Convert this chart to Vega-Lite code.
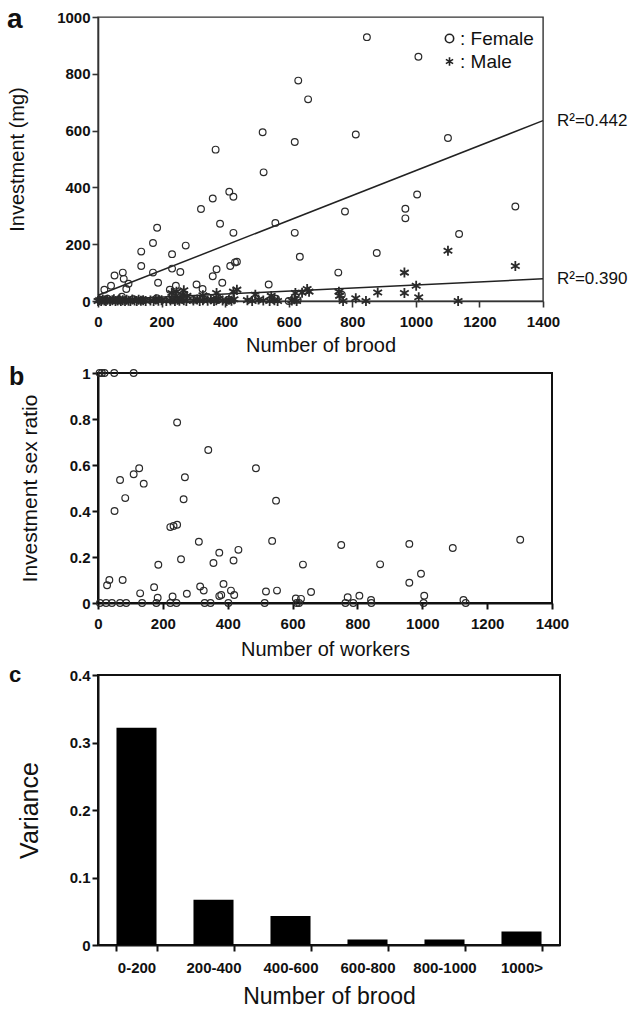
{
  "$schema": "https://vega.github.io/schema/vega-lite/v6.json",
  "background": "white",
  "padding": {"left": 6, "top": 5, "right": 0, "bottom": 0},
  "bounds": "flush",
  "spacing": 72,
  "config": {
    "font": "Liberation Sans",
    "axis": {
      "grid": false,
      "labelFont": "Liberation Sans",
      "titleFont": "Liberation Sans",
      "labelFontWeight": "bold",
      "titleFontWeight": "normal",
      "labelColor": "#111",
      "titleColor": "#111",
      "domainColor": "#222",
      "tickColor": "#222",
      "domainWidth": 1.6,
      "tickWidth": 1.6,
      "tickSize": 6,
      "labelFontSize": 15,
      "labelFlush": false,
      "labelOverlap": false
    },
    "title": {"font": "Liberation Sans", "color": "#111"}
  },
  "datasets": {
    "a_pts": [
      {"brood": 630, "inv": 776, "sex": "Female"},
      {"brood": 661, "inv": 710, "sex": "Female"},
      {"brood": 518, "inv": 594, "sex": "Female"},
      {"brood": 619, "inv": 560, "sex": "Female"},
      {"brood": 370, "inv": 533, "sex": "Female"},
      {"brood": 521, "inv": 453, "sex": "Female"},
      {"brood": 413, "inv": 385, "sex": "Female"},
      {"brood": 426, "inv": 367, "sex": "Female"},
      {"brood": 361, "inv": 361, "sex": "Female"},
      {"brood": 324, "inv": 324, "sex": "Female"},
      {"brood": 384, "inv": 272, "sex": "Female"},
      {"brood": 426, "inv": 240, "sex": "Female"},
      {"brood": 186, "inv": 258, "sex": "Female"},
      {"brood": 558, "inv": 275, "sex": "Female"},
      {"brood": 619, "inv": 240, "sex": "Female"},
      {"brood": 635, "inv": 156, "sex": "Female"},
      {"brood": 136, "inv": 174, "sex": "Female"},
      {"brood": 173, "inv": 204, "sex": "Female"},
      {"brood": 276, "inv": 195, "sex": "Female"},
      {"brood": 233, "inv": 165, "sex": "Female"},
      {"brood": 136, "inv": 123, "sex": "Female"},
      {"brood": 173, "inv": 100, "sex": "Female"},
      {"brood": 233, "inv": 114, "sex": "Female"},
      {"brood": 259, "inv": 102, "sex": "Female"},
      {"brood": 373, "inv": 112, "sex": "Female"},
      {"brood": 361, "inv": 87, "sex": "Female"},
      {"brood": 416, "inv": 123, "sex": "Female"},
      {"brood": 431, "inv": 136, "sex": "Female"},
      {"brood": 437, "inv": 138, "sex": "Female"},
      {"brood": 391, "inv": 64, "sex": "Female"},
      {"brood": 189, "inv": 64, "sex": "Female"},
      {"brood": 537, "inv": 58, "sex": "Female"},
      {"brood": 52, "inv": 90, "sex": "Female"},
      {"brood": 78, "inv": 100, "sex": "Female"},
      {"brood": 81, "inv": 78, "sex": "Female"},
      {"brood": 89, "inv": 42, "sex": "Female"},
      {"brood": 41, "inv": 54, "sex": "Female"},
      {"brood": 20, "inv": 40, "sex": "Female"},
      {"brood": 96, "inv": 61, "sex": "Female"},
      {"brood": 310, "inv": 58, "sex": "Female"},
      {"brood": 329, "inv": 42, "sex": "Female"},
      {"brood": 245, "inv": 54, "sex": "Female"},
      {"brood": 226, "inv": 40, "sex": "Female"},
      {"brood": 846, "inv": 929, "sex": "Female"},
      {"brood": 1008, "inv": 860, "sex": "Female"},
      {"brood": 811, "inv": 586, "sex": "Female"},
      {"brood": 1101, "inv": 574, "sex": "Female"},
      {"brood": 1004, "inv": 375, "sex": "Female"},
      {"brood": 777, "inv": 315, "sex": "Female"},
      {"brood": 967, "inv": 325, "sex": "Female"},
      {"brood": 967, "inv": 291, "sex": "Female"},
      {"brood": 1313, "inv": 333, "sex": "Female"},
      {"brood": 1136, "inv": 236, "sex": "Female"},
      {"brood": 877, "inv": 169, "sex": "Female"},
      {"brood": 756, "inv": 100, "sex": "Female"},
      {"brood": 767, "inv": 22, "sex": "Female"},
      {"brood": 8, "inv": 5, "sex": "Female"},
      {"brood": 30, "inv": 8, "sex": "Female"},
      {"brood": 60, "inv": 2, "sex": "Female"},
      {"brood": 75, "inv": 15, "sex": "Female"},
      {"brood": 110, "inv": 6, "sex": "Female"},
      {"brood": 140, "inv": 3, "sex": "Female"},
      {"brood": 185, "inv": 10, "sex": "Female"},
      {"brood": 235, "inv": 20, "sex": "Female"},
      {"brood": 250, "inv": 12, "sex": "Female"},
      {"brood": 300, "inv": 4, "sex": "Female"},
      {"brood": 345, "inv": 14, "sex": "Female"},
      {"brood": 380, "inv": 6, "sex": "Female"},
      {"brood": 410, "inv": 4, "sex": "Female"},
      {"brood": 560, "inv": 8, "sex": "Female"},
      {"brood": 600, "inv": 0, "sex": "Female"},
      {"brood": 628, "inv": 4, "sex": "Female"},
      {"brood": 0, "inv": 0, "sex": "Male"},
      {"brood": 5, "inv": 3, "sex": "Male"},
      {"brood": 10, "inv": 0, "sex": "Male"},
      {"brood": 15, "inv": 5, "sex": "Male"},
      {"brood": 20, "inv": 2, "sex": "Male"},
      {"brood": 25, "inv": 0, "sex": "Male"},
      {"brood": 30, "inv": 4, "sex": "Male"},
      {"brood": 38, "inv": 0, "sex": "Male"},
      {"brood": 45, "inv": 3, "sex": "Male"},
      {"brood": 50, "inv": 6, "sex": "Male"},
      {"brood": 55, "inv": 0, "sex": "Male"},
      {"brood": 62, "inv": 2, "sex": "Male"},
      {"brood": 68, "inv": 5, "sex": "Male"},
      {"brood": 72, "inv": 0, "sex": "Male"},
      {"brood": 78, "inv": 3, "sex": "Male"},
      {"brood": 85, "inv": 0, "sex": "Male"},
      {"brood": 90, "inv": 4, "sex": "Male"},
      {"brood": 96, "inv": 1, "sex": "Male"},
      {"brood": 102, "inv": 0, "sex": "Male"},
      {"brood": 108, "inv": 5, "sex": "Male"},
      {"brood": 115, "inv": 2, "sex": "Male"},
      {"brood": 122, "inv": 0, "sex": "Male"},
      {"brood": 128, "inv": 4, "sex": "Male"},
      {"brood": 135, "inv": 1, "sex": "Male"},
      {"brood": 142, "inv": 3, "sex": "Male"},
      {"brood": 150, "inv": 0, "sex": "Male"},
      {"brood": 165, "inv": 2, "sex": "Male"},
      {"brood": 175, "inv": 0, "sex": "Male"},
      {"brood": 182, "inv": 5, "sex": "Male"},
      {"brood": 190, "inv": 1, "sex": "Male"},
      {"brood": 200, "inv": 3, "sex": "Male"},
      {"brood": 215, "inv": 0, "sex": "Male"},
      {"brood": 228, "inv": 2, "sex": "Male"},
      {"brood": 236, "inv": 6, "sex": "Male"},
      {"brood": 242, "inv": 0, "sex": "Male"},
      {"brood": 250, "inv": 4, "sex": "Male"},
      {"brood": 256, "inv": 1, "sex": "Male"},
      {"brood": 262, "inv": 8, "sex": "Male"},
      {"brood": 270, "inv": 3, "sex": "Male"},
      {"brood": 278, "inv": 0, "sex": "Male"},
      {"brood": 300, "inv": 2, "sex": "Male"},
      {"brood": 312, "inv": 5, "sex": "Male"},
      {"brood": 320, "inv": 0, "sex": "Male"},
      {"brood": 330, "inv": 3, "sex": "Male"},
      {"brood": 345, "inv": 1, "sex": "Male"},
      {"brood": 355, "inv": 6, "sex": "Male"},
      {"brood": 365, "inv": 0, "sex": "Male"},
      {"brood": 372, "inv": 3, "sex": "Male"},
      {"brood": 380, "inv": 8, "sex": "Male"},
      {"brood": 392, "inv": 2, "sex": "Male"},
      {"brood": 405, "inv": 0, "sex": "Male"},
      {"brood": 412, "inv": 4, "sex": "Male"},
      {"brood": 420, "inv": 1, "sex": "Male"},
      {"brood": 428, "inv": 6, "sex": "Male"},
      {"brood": 470, "inv": 3, "sex": "Male"},
      {"brood": 485, "inv": 0, "sex": "Male"},
      {"brood": 505, "inv": 5, "sex": "Male"},
      {"brood": 520, "inv": 2, "sex": "Male"},
      {"brood": 540, "inv": 0, "sex": "Male"},
      {"brood": 555, "inv": 3, "sex": "Male"},
      {"brood": 565, "inv": 0, "sex": "Male"},
      {"brood": 610, "inv": 2, "sex": "Male"},
      {"brood": 618, "inv": 6, "sex": "Male"},
      {"brood": 625, "inv": 0, "sex": "Male"},
      {"brood": 247, "inv": 33, "sex": "Male"},
      {"brood": 270, "inv": 38, "sex": "Male"},
      {"brood": 232, "inv": 28, "sex": "Male"},
      {"brood": 265, "inv": 22, "sex": "Male"},
      {"brood": 280, "inv": 18, "sex": "Male"},
      {"brood": 330, "inv": 20, "sex": "Male"},
      {"brood": 373, "inv": 28, "sex": "Male"},
      {"brood": 426, "inv": 33, "sex": "Male"},
      {"brood": 437, "inv": 40, "sex": "Male"},
      {"brood": 495, "inv": 22, "sex": "Male"},
      {"brood": 545, "inv": 18, "sex": "Male"},
      {"brood": 621, "inv": 28, "sex": "Male"},
      {"brood": 642, "inv": 29, "sex": "Male"},
      {"brood": 658, "inv": 42, "sex": "Male"},
      {"brood": 664, "inv": 33, "sex": "Male"},
      {"brood": 758, "inv": 33, "sex": "Male"},
      {"brood": 760, "inv": 18, "sex": "Male"},
      {"brood": 771, "inv": 0, "sex": "Male"},
      {"brood": 811, "inv": 10, "sex": "Male"},
      {"brood": 843, "inv": 0, "sex": "Male"},
      {"brood": 880, "inv": 30, "sex": "Male"},
      {"brood": 964, "inv": 28, "sex": "Male"},
      {"brood": 964, "inv": 100, "sex": "Male"},
      {"brood": 1001, "inv": 54, "sex": "Male"},
      {"brood": 1009, "inv": 13, "sex": "Male"},
      {"brood": 1101, "inv": 177, "sex": "Male"},
      {"brood": 1133, "inv": 0, "sex": "Male"},
      {"brood": 1313, "inv": 123, "sex": "Male"}
    ],
    "a_fit": [
      {"brood": 0, "inv": 20, "sex": "Female"},
      {"brood": 1400, "inv": 635, "sex": "Female"},
      {"brood": 0, "inv": 3, "sex": "Male"},
      {"brood": 1400, "inv": 78, "sex": "Male"}
    ],
    "a_r2": [
      {"brood": 1400, "inv": 635, "label": "R²=0.442"},
      {"brood": 1400, "inv": 78, "label": "R²=0.390"}
    ],
    "b_pts": [
      {"workers": 5, "ratio": 1}, {"workers": 12, "ratio": 1}, {"workers": 20, "ratio": 1}, {"workers": 50, "ratio": 1}, {"workers": 110, "ratio": 1},
      {"workers": 244, "ratio": 0.785}, {"workers": 340, "ratio": 0.665}, {"workers": 487, "ratio": 0.586}, {"workers": 549, "ratio": 0.445},
      {"workers": 127, "ratio": 0.586}, {"workers": 110, "ratio": 0.56}, {"workers": 141, "ratio": 0.519}, {"workers": 68, "ratio": 0.535},
      {"workers": 268, "ratio": 0.547}, {"workers": 264, "ratio": 0.451}, {"workers": 84, "ratio": 0.456}, {"workers": 51, "ratio": 0.4},
      {"workers": 223, "ratio": 0.33}, {"workers": 233, "ratio": 0.335}, {"workers": 244, "ratio": 0.34},
      {"workers": 311, "ratio": 0.266}, {"workers": 537, "ratio": 0.27}, {"workers": 374, "ratio": 0.219}, {"workers": 433, "ratio": 0.231},
      {"workers": 356, "ratio": 0.174}, {"workers": 418, "ratio": 0.185}, {"workers": 256, "ratio": 0.19}, {"workers": 186, "ratio": 0.166},
      {"workers": 632, "ratio": 0.167}, {"workers": 28, "ratio": 0.077}, {"workers": 35, "ratio": 0.1}, {"workers": 76, "ratio": 0.1},
      {"workers": 173, "ratio": 0.069}, {"workers": 130, "ratio": 0.042}, {"workers": 315, "ratio": 0.072}, {"workers": 326, "ratio": 0.054},
      {"workers": 387, "ratio": 0.083}, {"workers": 410, "ratio": 0.054}, {"workers": 274, "ratio": 0.04}, {"workers": 374, "ratio": 0.03},
      {"workers": 380, "ratio": 0.035}, {"workers": 420, "ratio": 0.035}, {"workers": 518, "ratio": 0.05}, {"workers": 552, "ratio": 0.054},
      {"workers": 657, "ratio": 0.048}, {"workers": 610, "ratio": 0.02}, {"workers": 626, "ratio": 0.018}, {"workers": 230, "ratio": 0.028},
      {"workers": 184, "ratio": 0.023}, {"workers": 750, "ratio": 0.252}, {"workers": 960, "ratio": 0.257}, {"workers": 1094, "ratio": 0.239},
      {"workers": 1302, "ratio": 0.275}, {"workers": 870, "ratio": 0.168}, {"workers": 996, "ratio": 0.127}, {"workers": 960, "ratio": 0.088},
      {"workers": 1006, "ratio": 0.032}, {"workers": 770, "ratio": 0.025}, {"workers": 806, "ratio": 0.032}, {"workers": 842, "ratio": 0.013},
      {"workers": 1127, "ratio": 0.013},
      {"workers": 6, "ratio": 0}, {"workers": 25, "ratio": 0}, {"workers": 43, "ratio": 0}, {"workers": 68, "ratio": 0}, {"workers": 87, "ratio": 0},
      {"workers": 136, "ratio": 0}, {"workers": 180, "ratio": 0}, {"workers": 223, "ratio": 0}, {"workers": 242, "ratio": 0}, {"workers": 329, "ratio": 0},
      {"workers": 347, "ratio": 0}, {"workers": 402, "ratio": 0}, {"workers": 514, "ratio": 0}, {"workers": 613, "ratio": 0}, {"workers": 620, "ratio": 0},
      {"workers": 763, "ratio": 0}, {"workers": 787, "ratio": 0}, {"workers": 843, "ratio": 0}, {"workers": 1004, "ratio": 0}, {"workers": 1134, "ratio": 0}
    ],
    "c_bars": [
      {"group": "0-200", "variance": 0.322},
      {"group": "200-400", "variance": 0.067},
      {"group": "400-600", "variance": 0.043},
      {"group": "600-800", "variance": 0.008},
      {"group": "800-1000", "variance": 0.008},
      {"group": "1000>", "variance": 0.02}
    ]
  },
  "vconcat": [
    {
      "width": 445,
      "height": 284,
      "view": {"stroke": "#333", "strokeWidth": 1.4},
      "title": {"text": "a", "anchor": "start", "frame": "bounds", "fontSize": 28, "fontWeight": "bold", "baseline": "alphabetic", "offset": 0, "dy": 46, "dx": 0},
      "encoding": {
        "x": {"field": "brood", "type": "quantitative", "scale": {"domain": [0, 1400], "nice": false, "zero": true},
              "axis": {"title": "Number of brood", "format": "d", "values": [0, 200, 400, 600, 800, 1000, 1200, 1400], "titleFontSize": 20, "labelPadding": 7, "titlePadding": 6, "domainColor": "#333", "tickColor": "#333"}},
        "y": {"field": "inv", "type": "quantitative", "scale": {"domain": [0, 1000], "nice": false},
              "axis": {"title": "Investment (mg)", "format": "d", "values": [0, 200, 400, 600, 800, 1000], "titleFontSize": 20, "minExtent": 45, "maxExtent": 45, "titlePadding": 26, "domainColor": "#333", "tickColor": "#333"}}
      },
      "layer": [
        {
          "data": {"name": "a_fit"},
          "mark": {"type": "line", "color": "#222", "strokeWidth": 1.5},
          "encoding": {"detail": {"field": "sex", "type": "nominal"}}
        },
        {
          "data": {"name": "a_pts"},
          "mark": {"type": "point", "filled": false, "color": "#2a2a2a", "opacity": 1},
          "encoding": {
            "shape": {"field": "sex", "type": "nominal",
                      "scale": {"domain": ["Female", "Male"], "range": ["circle", "M0,-1L0,1M-0.866,-0.5L0.866,0.5M-0.866,0.5L0.866,-0.5"]},
                      "legend": {"title": null, "orient": "none", "legendX": 342, "legendY": 12, "padding": 0, "labelExpr": "': ' + datum.label",
                                 "labelFontSize": 19, "labelFont": "Liberation Sans", "labelColor": "#111", "symbolSize": 70,
                                 "symbolStrokeColor": "#222", "symbolFillColor": "transparent", "symbolStrokeWidth": 1.6,
                                 "rowPadding": 3, "labelOffset": 1}},
            "size": {"condition": {"test": "datum.sex === 'Male'", "value": 100}, "value": 45},
            "strokeWidth": {"condition": {"test": "datum.sex === 'Male'", "value": 1.8}, "value": 1.2}
          }
        },
        {
          "data": {"name": "a_r2"},
          "mark": {"type": "text", "align": "left", "baseline": "middle", "dx": 14, "fontSize": 17, "color": "#111"},
          "encoding": {"text": {"field": "label", "type": "nominal"}}
        }
      ]
    },
    {
      "width": 454,
      "height": 230,
      "view": {"stroke": "#111", "strokeWidth": 2},
      "title": {"text": "b", "anchor": "start", "frame": "bounds", "fontSize": 25, "fontWeight": "bold", "baseline": "alphabetic", "offset": 0, "dy": 44, "dx": -10},
      "data": {"name": "b_pts"},
      "mark": {"type": "point", "shape": "circle", "filled": false, "color": "#2a2a2a", "size": 45, "strokeWidth": 1.2, "opacity": 1},
      "encoding": {
        "x": {"field": "workers", "type": "quantitative", "scale": {"domain": [0, 1400], "nice": false},
              "axis": {"title": "Number of workers", "format": "d", "values": [0, 200, 400, 600, 800, 1000, 1200, 1400], "titleFontSize": 20, "labelPadding": 7, "titlePadding": 8, "domainColor": "#111", "tickColor": "#111", "domainWidth": 2, "tickWidth": 2}},
        "y": {"field": "ratio", "type": "quantitative", "scale": {"domain": [0, 1], "nice": false},
              "axis": {"title": "Investment sex ratio", "format": ".1~f", "values": [0, 0.2, 0.4, 0.6, 0.8, 1], "titleFontSize": 21, "minExtent": 32, "maxExtent": 32, "titlePadding": 26, "domainColor": "#111", "tickColor": "#111", "domainWidth": 2, "tickWidth": 2}}
      }
    },
    {
      "width": 462,
      "height": 270,
      "view": {"stroke": "#111", "strokeWidth": 2},
      "title": {"text": "c", "anchor": "start", "frame": "bounds", "fontSize": 22, "fontWeight": "bold", "baseline": "alphabetic", "offset": 0, "dy": 36, "dx": -8},
      "data": {"name": "c_bars"},
      "mark": {"type": "bar", "color": "#000"},
      "encoding": {
        "x": {"field": "group", "type": "nominal", "sort": null, "scale": {"paddingInner": 0.48, "paddingOuter": 0.24},
              "axis": {"title": "Number of brood", "tickBand": "extent", "labelAngle": 0, "labelFontSize": 15, "titleFontSize": 23, "labelPadding": 9, "titlePadding": 10, "domainColor": "#111", "tickColor": "#111", "domainWidth": 2, "tickWidth": 2}},
        "y": {"field": "variance", "type": "quantitative", "scale": {"domain": [0, 0.4], "nice": false},
              "axis": {"title": "Variance", "format": ".1~f", "values": [0, 0.1, 0.2, 0.3, 0.4], "titleFontSize": 25, "minExtent": 33, "maxExtent": 33, "titlePadding": 23, "domainColor": "#111", "tickColor": "#111", "domainWidth": 2, "tickWidth": 2}}
      }
    }
  ]
}
